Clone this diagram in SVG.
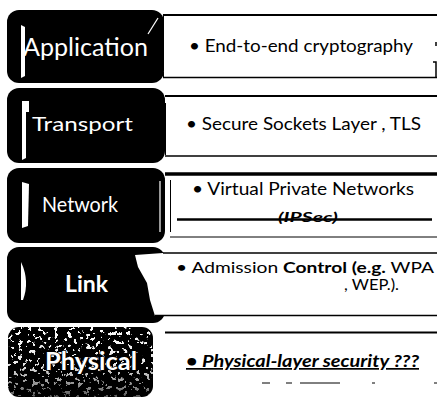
<svg xmlns="http://www.w3.org/2000/svg" width="438" height="399" viewBox="0 0 438 399">
  <style>
    .tab { fill: #000; }
    .mark { fill: #fff; }
    .name { font-family: Lato, "Liberation Sans", sans-serif; fill: #fff; }
    .desc { font-family: Lato, "Liberation Sans", sans-serif; fill: #000; }
    .rule { stroke: #000; fill: none; }
    .edge { stroke: #000; fill: none; stroke-width: 1; stroke-dasharray: 6 2; }
  </style>
  <defs>
    <!-- coarse white speckle texture for the physical tab -->
    <filter id="grain" x="0" y="0" width="100%" height="100%">
      <feTurbulence type="fractalNoise" baseFrequency="0.22" numOctaves="3" seed="11" result="noise"/>
      <feColorMatrix in="noise" type="matrix" values="0 0 0 0 1  0 0 0 0 1  0 0 0 0 1  30 0 0 0 -18.3"/>
      <feComposite in2="SourceAlpha" operator="in"/>
    </filter>
    <linearGradient id="fade" x1="0" y1="0" x2="0" y2="1">
      <stop offset="0" stop-color="#fff" stop-opacity="1"/>
      <stop offset="0.55" stop-color="#fff" stop-opacity="0.9"/>
      <stop offset="1" stop-color="#fff" stop-opacity="0.35"/>
    </linearGradient>
    <mask id="fadeMask">
      <rect x="8" y="327" width="145" height="70" fill="url(#fade)"/>
    </mask>
  </defs>

  <rect width="438" height="399" fill="#fff"/>

  <!-- Application layer -->
  <g id="layer-application">
    <rect class="tab" x="7" y="10" width="157" height="73" rx="12"/>
    <path class="mark" d="M21 25 L25 27 L25 76 L21 78 Z"/>
    <path d="M148 34 L158 18" stroke="#fff" stroke-width="1.2"/>
    <text class="name" x="23" y="56" font-size="25" textLength="125" lengthAdjust="spacingAndGlyphs">Application</text>
    <line class="rule" x1="163" y1="15" x2="437" y2="15" stroke-width="2"/>
    <line class="rule" x1="163" y1="77.5" x2="437" y2="77.5" stroke-width="1.5"/>
    <line class="edge" x1="163.5" y1="16" x2="163.5" y2="77"/>
    <path class="rule" d="M436 42 L436 46 M433 62 L436 62 L436 77" stroke-width="1.5"/>
    <text class="desc" x="189" y="52" font-size="17" textLength="224" lengthAdjust="spacingAndGlyphs">• End-to-end cryptography</text>
  </g>

  <!-- Transport layer -->
  <g id="layer-transport">
    <rect class="tab" x="7" y="88" width="158" height="75" rx="12"/>
    <path class="mark" d="M22 101 L29 101 L29 112 L26 112 L26 158 L22 160 Z"/>
    <text class="name" x="32" y="131" font-size="20" textLength="101" lengthAdjust="spacingAndGlyphs">Transport</text>
    <line class="rule" x1="165" y1="96" x2="437" y2="96" stroke-width="2"/>
    <line class="rule" x1="165" y1="156" x2="437" y2="156" stroke-width="1.5"/>
    <line class="rule" x1="165.5" y1="103" x2="165.5" y2="155" stroke-width="1"/>
    <text class="desc" x="186" y="130" font-size="18" textLength="235" lengthAdjust="spacingAndGlyphs">• Secure Sockets Layer , TLS</text>
  </g>

  <!-- Network layer -->
  <g id="layer-network">
    <rect class="tab" x="7" y="168" width="158" height="75" rx="12"/>
    <path class="mark" d="M22 182 L29 184 L28 226 L22 228 Z"/>
    <line x1="160" y1="181" x2="160" y2="232" stroke="#fff" stroke-width="1.2"/>
    <text class="name" x="42" y="212" font-size="21" textLength="76" lengthAdjust="spacingAndGlyphs">Network</text>
    <line class="rule" x1="165" y1="174" x2="437" y2="174" stroke-width="3.5"/>
    <line class="rule" x1="170" y1="237" x2="437" y2="237" stroke-width="1"/>
    <line class="rule" x1="170.5" y1="180" x2="170.5" y2="232" stroke-width="1"/>
    <text class="desc" x="192" y="195" font-size="18" textLength="222" lengthAdjust="spacingAndGlyphs">• Virtual Private Networks</text>
    <text class="desc" x="278" y="222" font-size="13" font-weight="bold" font-style="italic" textLength="60" lengthAdjust="spacingAndGlyphs">(IPSec)</text>
    <line class="rule" x1="177" y1="219.5" x2="432" y2="219.5" stroke-width="2.5"/>
  </g>

  <!-- Link layer -->
  <g id="layer-link">
    <rect class="tab" x="7" y="247" width="158" height="76" rx="12"/>
    <polygon fill="#fff" points="135,255 163,253 437,253 437,315 155,316 150,300 147,283 138,267"/>
    <path class="mark" d="M21 262 Q30 281 23 300 L21 300 Z"/>
    <text class="name" x="65" y="292" font-size="23" font-weight="bold" textLength="43" lengthAdjust="spacingAndGlyphs">Link</text>
    <line class="rule" x1="163" y1="253" x2="437" y2="253" stroke-width="1.5"/>
    <line class="rule" x1="155" y1="315.5" x2="437" y2="315.5" stroke-width="1.5"/>
    <text class="desc" x="176" y="273" font-size="15.5" textLength="258" lengthAdjust="spacingAndGlyphs">• Admission <tspan font-weight="bold">Control (e.g.</tspan> WPA</text>
    <text class="desc" x="344" y="290" font-size="15.5" textLength="55" lengthAdjust="spacingAndGlyphs">, WEP.).</text>
  </g>

  <!-- Physical layer -->
  <g id="layer-physical">
    <rect class="tab" x="8" y="327" width="145" height="70" rx="11"/>
    <g mask="url(#fadeMask)">
      <rect x="8" y="327" width="145" height="70" rx="11" fill="#fff" filter="url(#grain)"/>
    </g>
    <text class="name" x="45" y="370" font-size="24" font-weight="bold" stroke="#000" stroke-width="1.5" paint-order="stroke" textLength="92" lengthAdjust="spacingAndGlyphs">Physical</text>
    <line class="rule" x1="165" y1="332.5" x2="437" y2="332.5" stroke-width="2"/>
    <text class="desc" x="186" y="367" font-size="17" font-weight="bold" font-style="italic" text-decoration="underline" textLength="233" lengthAdjust="spacingAndGlyphs">• Physical-layer security ???</text>
    <path class="rule" d="M262 383 L270 383 M286 383 L292 383 M300 383 L340 383 M372 383 L375 383 M434 383 L437 383" stroke-width="1"/>
  </g>
</svg>
